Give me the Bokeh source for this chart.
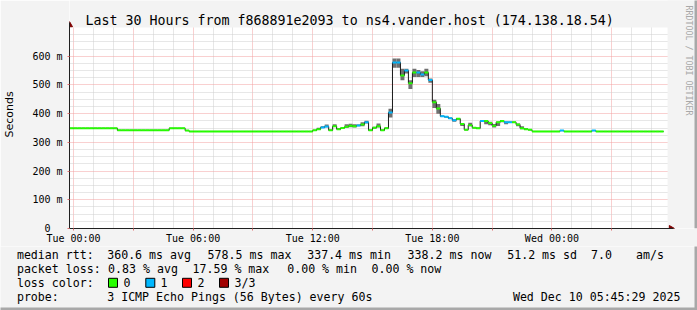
from math import pi
from bokeh.plotting import figure
from bokeh.layouts import column
from bokeh.models import FixedTicker, Range1d
from bokeh.core.properties import value
from bokeh.embed import file_html
from bokeh.resources import INLINE

# ---------------- data ----------------
# time in hours relative to Tue 00:00, 12-minute consolidated steps
start_hour = -0.2
step_hour = 0.2
span_hours = 30.0

median_ms = [
    349, 349, 349, 349, 349, 349, 349, 349, 349, 349, 349, 349,
    342, 342, 342, 342, 342, 342, 342, 342, 342, 342, 342, 342, 342,
    349, 349, 349, 349,
    341,
    338, 338, 338, 338, 338, 338, 338, 338, 338, 338, 338, 338, 338, 338, 338, 338,
    338, 338, 338, 338, 338, 338, 338, 338, 338, 338, 338, 338, 338, 338, 338,
    342, 346, 352, 355, 342, 356, 346, 350, 354, 358,
    356, 359, 362, 370, 342, 351, 356, 342, 349, 404,
    578, 578, 533, 550, 506, 543, 543, 536, 543, 517,
    440, 418, 391, 389, 384, 377, 382, 364, 344, 360,
    351, 349, 374, 374, 367, 358, 370, 374, 370, 370,
    370, 362, 349, 346, 344,
    338, 338, 338, 338, 338, 338, 338, 341, 338, 338, 338, 338, 338, 338, 338, 341,
    338, 338, 338, 338, 338, 338, 338, 338, 338, 338, 338, 338, 338, 338, 338, 338, 338,
]

smoke_lo_ms = [
    349, 349, 349, 349, 349, 349, 349, 349, 349, 349, 349, 349,
    342, 342, 342, 342, 342, 342, 342, 342, 342, 342, 342, 342, 342,
    349, 349, 349, 349,
    341,
    338, 338, 338, 338, 338, 338, 338, 338, 338, 338, 338, 338, 338, 338, 338, 338,
    338, 338, 338, 338, 338, 338, 338, 338, 338, 338, 338, 338, 338, 338, 338,
    341, 345, 350, 353, 341, 354, 345, 349, 352, 353,
    352, 356, 356, 366, 340, 348, 352, 340, 347, 387,
    560, 560, 516, 540, 486, 528, 528, 528, 530, 508,
    420, 400, 389, 387, 382, 372, 380, 357, 342, 356,
    349, 347, 372, 363, 360, 352, 357, 370, 363, 368,
    368, 356, 346, 344, 342,
    338, 338, 338, 338, 338, 338, 338, 341, 338, 338, 338, 338, 338, 338, 338, 341,
    338, 338, 338, 338, 338, 338, 338, 338, 338, 338, 338, 338, 338, 338, 338, 338, 338,
]

smoke_hi_ms = [
    349, 349, 349, 349, 349, 349, 349, 349, 349, 349, 349, 349,
    342, 342, 342, 342, 342, 342, 342, 342, 342, 342, 342, 342, 342,
    349, 349, 349, 349,
    341,
    338, 338, 338, 338, 338, 338, 338, 338, 338, 338, 338, 338, 338, 338, 338, 338,
    338, 338, 338, 338, 338, 338, 338, 338, 338, 338, 338, 338, 338, 338, 338,
    343, 351, 356, 362, 344, 363, 349, 353, 363, 365,
    363, 362, 370, 375, 344, 354, 366, 344, 352, 417,
    592, 592, 556, 556, 516, 556, 552, 548, 556, 522,
    448, 434, 393, 391, 386, 380, 384, 367, 346, 368,
    353, 351, 376, 376, 372, 364, 372, 378, 372, 372,
    372, 366, 356, 348, 346,
    338, 338, 338, 338, 338, 338, 338, 341, 338, 338, 338, 338, 338, 338, 338, 341,
    338, 338, 338, 338, 338, 338, 338, 338, 338, 338, 338, 338, 338, 338, 338, 338, 338,
]

# lost pings (out of 3) per step
loss_count = [
    0, 0, 0, 0, 0, 0, 0, 0, 0, 0, 0, 0,
    0, 0, 0, 0, 0, 0, 0, 0, 0, 0, 0, 0, 0,
    0, 0, 0, 0,
    0,
    0, 0, 0, 0, 0, 0, 0, 0, 0, 0, 0, 0, 0, 0, 0, 0,
    0, 0, 0, 0, 0, 0, 0, 0, 0, 0, 0, 0, 0, 0, 0,
    0, 0, 1, 1, 0, 0, 0, 0, 0, 0,
    0, 1, 0, 1, 0, 0, 0, 0, 0, 1,
    1, 1, 0, 1, 0, 0, 1, 1, 0, 1,
    0, 0, 1, 1, 1, 1, 0, 0, 0, 0,
    0, 0, 1, 0, 0, 0, 0, 0, 1, 1,
    0, 0, 0, 0, 0,
    0, 0, 0, 0, 0, 0, 0, 1, 0, 0, 0, 0, 0, 0, 0, 1,
    0, 0, 0, 0, 0, 0, 0, 0, 0, 0, 0, 0, 0, 0, 0, 0, 0,
]

loss_colors = ["#26ff00", "#00b8ff", "#ff0000", "#a10000"]
loss_labels = ["0", "1", "2", "3/3"]

x_tick_hours = [0, 6, 12, 18, 24]
x_tick_labels = ["Tue 00:00", "Tue 06:00", "Tue 12:00", "Tue 18:00", "Wed 00:00"]
y_tick_ms = [0, 100, 200, 300, 400, 500, 600]
y_tick_labels = ["0\u00a0\u00a0", "100 m", "200 m", "300 m", "400 m", "500 m", "600 m"]
y_max_ms = 700

title_text = "Last 30 Hours from f868891e2093 to ns4.vander.host (174.138.18.54)"
rtt_label = "median rtt:"
rtt_stats = ["360.6 ms avg", "578.5 ms max", "337.4 ms min", "338.2 ms now", "51.2 ms sd", "7.0", "am/s"]
loss_label = "packet loss:"
loss_stats = ["0.83 % avg", "17.59 % max", "0.00 % min", "0.00 % now"]
color_label = "loss color:"
probe_label = "probe:"
probe_text = "3 ICMP Echo Pings (56 Bytes) every 60s"
stamp_text = "Wed Dec 10 05:45:29 2025"
credit_text = "RRDTOOL / TOBI OETIKER"

# ---------------- geometry (pixels) ----------------
MONO = "DejaVu Sans Mono"
W = 697
MAIN_H = 246
LEG_H = 310 - MAIN_H
X0PX, Y0PX = 67, 228          # pixel of (start_hour, 0 ms) = frame left / bottom
PXH = 20.0                    # pixels per hour
PXMS = 201.0 / y_max_ms       # pixels per ms
BACK = "#f3f3f3"
EDGE = "#a8a8a8"


def hx(px):
    return start_hour + (px - X0PX) / PXH


def my(py):
    return (Y0PX - py) / PXMS


end_hour = start_hour + span_hours

p = figure(width=W, height=MAIN_H, output_backend="svg", toolbar_location=None,
           title_location=None,
           x_range=Range1d(start_hour, hx(W)), y_range=Range1d(0, my(0)),
           min_border=0, min_border_left=X0PX, min_border_right=0,
           min_border_top=0, min_border_bottom=MAIN_H - Y0PX,
           background_fill_color="white", border_fill_color=BACK,
           outline_line_color=None)

# grids
p.xgrid.ticker = FixedTicker(ticks=[h for h in range(0, 30, 3)],
                             minor_ticks=[h for h in range(0, 30) if h % 3 != 0])
p.ygrid.ticker = FixedTicker(ticks=[v for v in range(100, y_max_ms, 100)],
                             minor_ticks=[v for v in range(25, y_max_ms, 25) if v % 100 != 0])
for g in (p.xgrid, p.ygrid):
    g.grid_line_color = "#f2a0a0"
    g.grid_line_dash = "1 1"
    g.grid_line_width = 1
    g.minor_grid_line_color = "#cfcfcf"
    g.minor_grid_line_dash = "1 1"
    g.minor_grid_line_width = 1

# axes
p.xaxis.bounds = (start_hour, hx(673))
p.yaxis.bounds = (0, my(22))
p.xaxis.ticker = FixedTicker(ticks=[h for h in range(0, 30, 3)])
ov = {h: "" for h in range(0, 30, 3)}
ov.update(dict(zip(x_tick_hours, x_tick_labels)))
p.xaxis.major_label_overrides = ov
p.yaxis.ticker = FixedTicker(ticks=y_tick_ms)
p.yaxis.major_label_overrides = dict(zip(y_tick_ms, y_tick_labels))
for ax in (p.xaxis, p.yaxis):
    ax.axis_line_color = "#202020"
    ax.major_tick_line_color = "#e07070"
    ax.major_tick_in = 0
    ax.major_tick_out = 2
    ax.minor_tick_line_color = None
    ax.major_label_text_font = MONO
    ax.major_label_text_font_size = "10px"
    ax.major_label_text_color = "black"
p.xaxis.major_label_standoff = 2
p.yaxis.major_label_standoff = 5
p.yaxis.axis_label = "Seconds"
p.yaxis.axis_label_text_font = "DejaVu Sans"
p.yaxis.axis_label_text_font_size = "11px"
p.yaxis.axis_label_text_font_style = "normal"
p.yaxis.axis_label_text_color = "black"
p.yaxis.axis_label_standoff = 13

# mask the frame outside the graph canvas with the background colour
far_r, far_t = hx(W + 5), my(-5)
p.quad(left=[start_hour, end_hour], right=[far_r, far_r],
       bottom=[y_max_ms, 0], top=[far_t, far_t],
       fill_color=BACK, line_color=None)

# data geometry
n = len(median_ms)
left = [start_hour + i * step_hour for i in range(n)]
right = [t + step_hour for t in left]

# smoke
sm = [i for i in range(n) if smoke_hi_ms[i] > smoke_lo_ms[i]]
p.quad(left=[left[i] for i in sm], right=[right[i] for i in sm],
       bottom=[smoke_lo_ms[i] for i in sm], top=[smoke_hi_ms[i] for i in sm],
       fill_color="#707070", line_color=None)

# median black step line
p.step(x=left + [right[-1]], y=median_ms + [median_ms[-1]], mode="after",
       line_color="#1a1a1a", line_width=1)

# loss-coloured median
p.segment(x0=left, x1=right, y0=median_ms, y1=median_ms,
          line_color=[loss_colors[c] for c in loss_count], line_width=2)

# axis arrow heads
p.scatter(x=[start_hour], y=[my(24.5)], marker="triangle", size=6,
          fill_color="#7f0000", line_color="#7f0000")
p.scatter(x=[hx(670.5)], y=[0], marker="triangle", angle=-pi / 2, size=6,
          fill_color="#7f0000", line_color="#7f0000")

# title and credit
p.text(x=[hx(83.0)], y=[my(20)], text=[title_text], text_font=value(MONO),
       text_font_size="13.3px", text_baseline="middle", text_align="left",
       text_color="black")
p.text(x=[hx(688.3)], y=[my(60)], text=[credit_text], text_font=value(MONO),
       text_font_size="8.3px", text_baseline="middle", text_align="center",
       text_color="#a8a8a8", angle=-pi / 2)

# right shading edge
p.quad(left=[hx(694)], right=[far_r], bottom=[0], top=[far_t],
       fill_color=EDGE, line_color=None)

# ---------------- legend area (pixel coordinates) ----------------
q = figure(width=W, height=LEG_H, output_backend="svg", toolbar_location=None,
           title_location=None, x_axis_location=None, y_axis_location=None,
           x_range=Range1d(0, W), y_range=Range1d(310, MAIN_H),
           min_border=0, min_border_left=0, min_border_right=0,
           min_border_top=0, min_border_bottom=0,
           background_fill_color=BACK, border_fill_color=BACK,
           outline_line_color=None)
q.grid.visible = False

for fig in (p, q):
    if "frame_align" in fig.properties():
        fig.frame_align = False

row_y = [254.3, 268.3, 282.3, 296.0]
txt_x, txt_y, txt = [], [], []


def put(x, y, t):
    txt_x.append(x)
    txt_y.append(y)
    txt.append(t)


put(16.4, row_y[0], rtt_label)
for x, t in zip([106.7, 207.1, 306.7, 407.1, 506.7, 590.5, 635.6], rtt_stats):
    put(x, row_y[0], t)
put(16.4, row_y[1], loss_label)
for x, t in zip([107.6, 192.0, 286.7, 371.0], loss_stats):
    put(x, row_y[1], t)
put(16.4, row_y[2], color_label)
box_x = [108.0, 145.3, 182.0, 219.0]
for x, t in zip([123.0, 160.0, 197.0, 234.0], loss_labels):
    put(x, row_y[2], t)
put(16.4, row_y[3], probe_label)
put(106.7, row_y[3], probe_text)
put(512.4, row_y[3], stamp_text)

q.text(x=txt_x, y=txt_y, text=txt, text_font=value(MONO), text_font_size="11.6px",
       text_baseline="middle", text_align="left", text_color="black")
q.quad(left=box_x, right=[b + 9 for b in box_x],
       top=[row_y[2] - 4.5] * 4, bottom=[row_y[2] + 4.5] * 4,
       fill_color=loss_colors, line_color="black", line_width=1)

# bottom / right shading edges
q.quad(left=[694, -5], right=[W + 5, W + 5], top=[MAIN_H - 5, 307], bottom=[315, 315],
       fill_color=EDGE, line_color=None)

layout = column(p, q, spacing=0)
open("out.html", "w").write(file_html(layout, INLINE))
